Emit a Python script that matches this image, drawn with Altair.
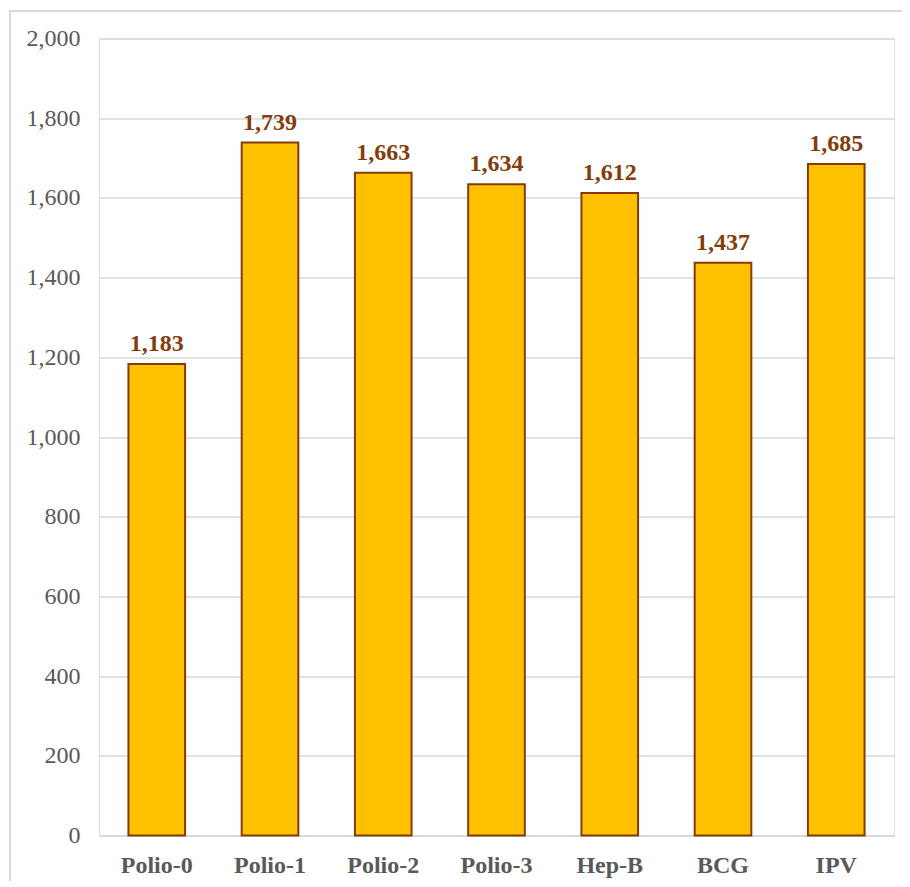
import altair as alt
import pandas as pd

categories = ["Polio-0", "Polio-1", "Polio-2", "Polio-3", "Hep-B", "BCG", "IPV"]
values = [1183, 1739, 1663, 1634, 1612, 1437, 1685]
y_ticks = [0, 200, 400, 600, 800, 1000, 1200, 1400, 1600, 1800, 2000]

df = pd.DataFrame({"vaccine": categories, "count": values})

FONT = "Liberation Serif"
W, H = 795, 797

x_enc = alt.X(
    "vaccine:N",
    sort=categories,
    scale=alt.Scale(paddingInner=0.5, paddingOuter=0.26),
    axis=alt.Axis(
        title=None, labelAngle=0, labelFont=FONT, labelFontSize=24,
        labelFontWeight="bold", labelColor="#595959", ticks=False,
        domainColor="#D9D9D9", domainWidth=2, labelPadding=18, grid=False,
    ),
)
y_enc = alt.Y(
    "count:Q",
    scale=alt.Scale(domain=[0, 2000], nice=False),
    axis=alt.Axis(
        title=None, values=y_ticks, format=",d", labelFont=FONT,
        labelFontSize=24, labelColor="#595959", ticks=False, domain=False,
        gridColor="#D9D9D9", gridWidth=1.5, labelPadding=19,
    ),
)

bars = alt.Chart(df).mark_bar(
    color="#FFC000", stroke="#843C0C", strokeWidth=2
).encode(x=x_enc, y=y_enc)

labels = alt.Chart(df).mark_text(
    font=FONT, fontSize=24, fontWeight="bold", color="#843C0C",
    baseline="alphabetic", dy=-13,
).encode(x=alt.X("vaccine:N", sort=categories), y=alt.Y("count:Q"),
         text=alt.Text("count:Q", format=",d"))

one = pd.DataFrame({"a": [0]})
frame_top = alt.Chart(one).mark_rule(stroke="#D9D9D9", strokeWidth=2).encode(
    x=alt.value(-90), x2=alt.value(820), y=alt.value(-27.5)
)
frame_left = alt.Chart(one).mark_rule(stroke="#D9D9D9", strokeWidth=2).encode(
    x=alt.value(-89), y=alt.value(-28.5), y2=alt.value(880)
)

chart = alt.layer(frame_top, frame_left, bars, labels).properties(
    width=W, height=H,
    autosize=alt.AutoSizeParams(type="none"),
    padding={"left": 91, "top": 30.5, "right": 8, "bottom": 45},
).configure_view(stroke=None).configure(background="white")

chart.save("out.html", embed_options={"renderer": "svg", "actions": False})
